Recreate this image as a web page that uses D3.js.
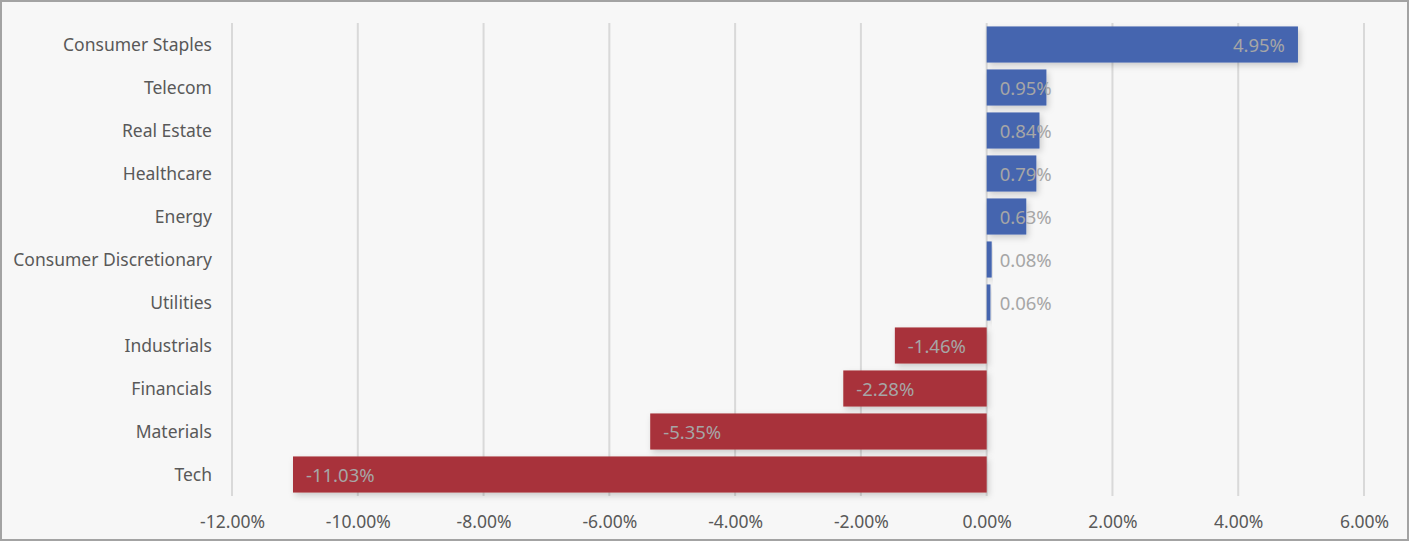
<!DOCTYPE html>
<html>
<head>
<meta charset="utf-8">
<script src="https://cdn.jsdelivr.net/npm/d3@7"></script>
<style>
  html, body { margin: 0; padding: 0; background: #f7f7f7; }
  svg { display: block; }
  text { font-family: "Noto Sans", "Open Sans", sans-serif; }
</style>
</head>
<body>
<script>
// sectors, top to bottom
const sectors = ["Consumer Staples", "Telecom", "Real Estate", "Healthcare", "Energy",
  "Consumer Discretionary", "Utilities", "Industrials", "Financials", "Materials", "Tech"];
// returns in percent
const returns = [4.95, 0.95, 0.84, 0.79, 0.63, 0.08, 0.06, -1.46, -2.28, -5.35, -11.03];
const xTicks = [-12, -10, -8, -6, -4, -2, 0, 2, 4, 6];

const width = 1409, height = 541;
const margin = { top: 23, right: 45, bottom: 45, left: 232 };

const svg = d3.select("body").append("svg")
    .attr("width", width)
    .attr("height", height);

// soft shadow under bars
const defs = svg.append("defs");
defs.append("filter")
    .attr("id", "shadow")
    .attr("x", "-10%").attr("y", "-30%")
    .attr("width", "130%").attr("height", "180%")
  .append("feDropShadow")
    .attr("dx", 2).attr("dy", 3)
    .attr("stdDeviation", 3)
    .attr("flood-color", "#000")
    .attr("flood-opacity", 0.18);

svg.append("rect")
    .attr("x", 1).attr("y", 1)
    .attr("width", width - 2).attr("height", height - 2)
    .attr("fill", "#f7f7f7")
    .attr("stroke", "#a3a3a3")
    .attr("stroke-width", 2);

const x = d3.scaleLinear()
    .domain([-12, 6])
    .range([margin.left, width - margin.right]);

const y = d3.scaleBand()
    .domain(sectors)
    .range([margin.top, height - margin.bottom])
    .paddingInner(0.16)
    .paddingOuter(0.08);

// gridlines
svg.append("g")
    .selectAll("line")
    .data(xTicks)
    .enter().append("line")
    .attr("x1", d => x(d)).attr("x2", d => x(d))
    .attr("y1", margin.top).attr("y2", height - margin.bottom)
    .attr("stroke", "#d9d9d9")
    .attr("stroke-width", 2);

// x axis labels
const xAxis = d3.axisBottom(x)
    .tickValues(xTicks)
    .tickSize(0)
    .tickPadding(0)
    .tickFormat(d => d.toFixed(2) + "%");

svg.append("g")
    .attr("transform", `translate(0,${height - margin.bottom + 20})`)
    .call(xAxis)
    .call(g => g.select(".domain").remove())
    .selectAll("text")
    .attr("fill", "#595959")
    .attr("font-size", "17.5px")
    .attr("font-family", "\"Noto Sans\", sans-serif");

// y axis labels
const yAxis = d3.axisLeft(y).tickSize(0).tickPadding(20);
svg.append("g")
    .attr("transform", `translate(${margin.left},1)`)
    .call(yAxis)
    .call(g => g.select(".domain").remove())
    .selectAll("text")
    .attr("fill", "#595959")
    .attr("font-size", "17.5px")
    .attr("font-family", "\"Noto Sans\", sans-serif");

const rows = sectors.map((s, i) => ({ sector: s, value: returns[i] }));

// bars
svg.append("g")
    .selectAll("rect")
    .data(rows)
    .enter().append("rect")
    .attr("x", d => Math.min(x(0), x(d.value)))
    .attr("y", d => y(d.sector))
    .attr("width", d => Math.abs(x(d.value) - x(0)))
    .attr("height", y.bandwidth())
    .attr("fill", d => d.value >= 0 ? "#4565af" : "#a8323a")
    .attr("filter", "url(#shadow)");

// value labels, inside end; pushed to the base when the bar is too short
const pad = 13;
const labels = svg.append("g")
    .selectAll("text")
    .data(rows)
    .enter().append("text")
    .attr("y", d => y(d.sector) + y.bandwidth() / 2 + 1)
    .attr("dy", "0.35em")
    .attr("fill", "#a6a6a6")
    .attr("font-size", "18.5px")
    .text(d => d.value.toFixed(2) + "%");

labels.each(function(d) {
    const w = this.getComputedTextLength();
    let lx;
    if (d.value >= 0) {
        lx = Math.max(x(d.value) - pad - w, x(0) + pad);
    } else {
        lx = x(d.value) + pad;
    }
    d3.select(this).attr("x", lx);
});
</script>
</body>
</html>
